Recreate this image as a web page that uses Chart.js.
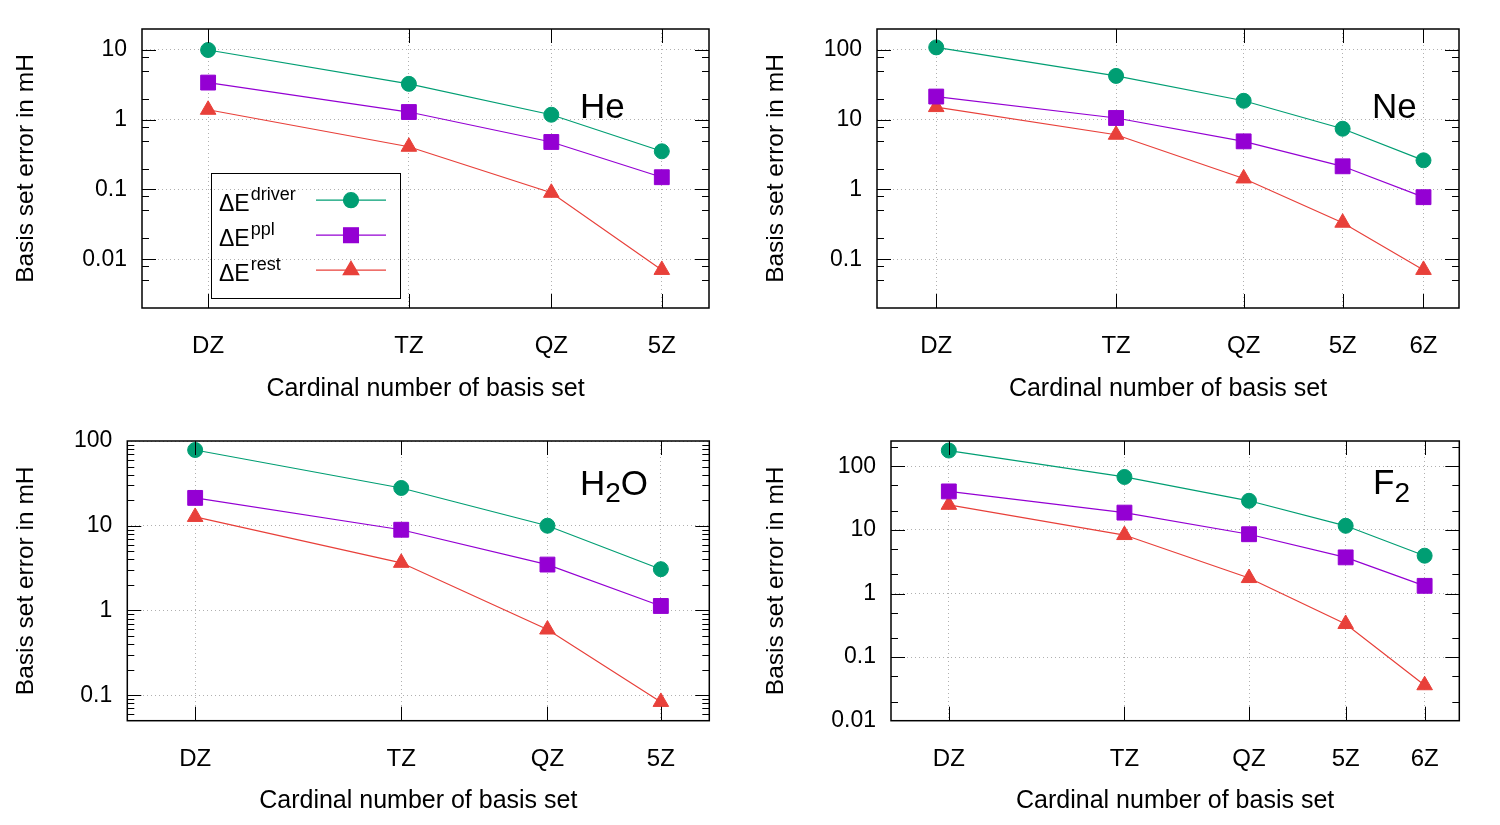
<!DOCTYPE html>
<html>
<head>
<meta charset="utf-8">
<script src="https://cdn.jsdelivr.net/npm/chart.js@4.4.1/dist/chart.umd.min.js"></script>
<style>
  body { margin: 0; background: #fff; }
  #wrap { position: relative; width: 1500px; height: 825px; }
  canvas { position: absolute; }
</style>
</head>
<body>
<div id="wrap">
  <canvas id="he" width="740" height="412" style="left:0;top:0"></canvas>
  <canvas id="ne" width="760" height="412" style="left:740px;top:0"></canvas>
  <canvas id="h2o" width="740" height="413" style="left:0;top:412px"></canvas>
  <canvas id="f2" width="760" height="413" style="left:740px;top:412px"></canvas>
</div>
<script>
// cardinal numbers of the basis sets and their labels
const cardinals = [2, 3, 4, 5, 6];
const cardLabels = ['DZ', 'TZ', 'QZ', '5Z', '6Z'];

// basis set errors in mH
const heDriver = [10, 3.27, 1.18, 0.353];
const hePpl = [3.41, 1.29, 0.48, 0.15];
const heRest = [1.39, 0.41, 0.0897, 0.00703];

const neDriver = [109, 42.5, 18.7, 7.43, 2.62];
const nePpl = [21.5, 10.6, 4.9, 2.15, 0.776];
const neRest = [15.2, 6.1, 1.44, 0.334, 0.0703];

const h2oDriver = [78.3, 27.9, 10.0, 3.07];
const h2oPpl = [21.3, 8.97, 3.48, 1.13];
const h2oRest = [12.7, 3.65, 0.596, 0.0833];

const f2Driver = [177, 68, 28.7, 11.6, 3.93];
const f2Ppl = [40.3, 18.7, 8.55, 3.7, 1.32];
const f2Rest = [24.8, 8.3, 1.75, 0.332, 0.0361];

// tick labels
const heYTicks = [0.01, 0.1, 1, 10];
const neYTicks = [0.1, 1, 10, 100];
const h2oYTicks = [0.1, 1, 10, 100];
const f2YTicks = [0.01, 0.1, 1, 10, 100];

const FONT = '"Liberation Sans", Arial, Helvetica, sans-serif';
const GREEN = '#009e73', PURPLE = '#9400d3', RED = '#e8403a';

const pts = ys => ys.map((y, i) => ({ x: cardinals[i], y }));

// frame, inward ticks, panel label and legend (gnuplot look)
const framePlugin = {
  id: 'frame',
  afterDraw(chart, args, o) {
    const { ctx, chartArea: a, scales: { x, y } } = chart;
    ctx.save();
    ctx.strokeStyle = '#000';
    ctx.lineWidth = 1;
    const d0 = Math.floor(Math.log10(y.min)), d1 = Math.ceil(Math.log10(y.max));
    for (let d = d0; d <= d1; d++) {
      const base = Math.pow(10, d);
      [[1, 14]].concat(o.minor.map(m => [m, 7])).forEach(([m, len]) => {
        const v = m * base;
        if (v <= y.min * 1.0001 || v >= y.max * 0.9999) return;
        const py = Math.round(y.getPixelForValue(v)) + 0.5;
        ctx.beginPath();
        ctx.moveTo(a.left, py); ctx.lineTo(a.left + len, py);
        ctx.moveTo(a.right, py); ctx.lineTo(a.right - len, py);
        ctx.stroke();
      });
    }
    x.ticks.forEach(t => {
      const px = Math.round(x.getPixelForValue(t.value)) + 0.5;
      ctx.beginPath();
      ctx.moveTo(px, a.top); ctx.lineTo(px, a.top + 14);
      ctx.moveTo(px, a.bottom); ctx.lineTo(px, a.bottom - 14);
      ctx.stroke();
    });
    ctx.lineWidth = 1.5;
    ctx.strokeRect(a.left, a.top, a.right - a.left, a.bottom - a.top);

    // panel label
    ctx.fillStyle = '#000';
    ctx.textBaseline = 'alphabetic';
    ctx.textAlign = 'left';
    let lx = o.labelX;
    o.label.forEach(p => {
      ctx.font = p.size + 'px ' + FONT;
      ctx.fillText(p.text, lx, o.labelY + (p.dy || 0));
      lx += ctx.measureText(p.text).width;
    });

    if (o.legend) {
      ctx.lineWidth = 1;
      ctx.strokeRect(211.5, 173.5, 189, 125);
      chart.data.datasets.forEach((ds, i) => {
        const base = 210.7 + i * 35;
        ctx.fillStyle = '#000';
        ctx.font = '23px ' + FONT;
        ctx.fillText('\u0394E', 219, base);
        const w = ctx.measureText('\u0394E').width;
        ctx.font = '18px ' + FONT;
        ctx.fillText(ds.label, 219 + w + 1, base - 10.5);
        const ly = base - 10.5;
        ctx.strokeStyle = ds.borderColor;
        ctx.lineWidth = ds.borderWidth;
        ctx.beginPath(); ctx.moveTo(316, ly); ctx.lineTo(386, ly); ctx.stroke();
        ctx.fillStyle = ds.backgroundColor;
        Chart.helpers.drawPoint(ctx, { pointStyle: ds.pointStyle, radius: ds.pointRadius, rotation: 0, borderWidth: 1 }, 351, ly);
      });
    }
    ctx.restore();
  }
};

function series(label, data, color, style, r) {
  return {
    label, data: pts(data), borderColor: color, backgroundColor: color,
    pointBackgroundColor: color, pointBorderColor: color, borderWidth: 1.2,
    pointStyle: style, pointRadius: r, pointHoverRadius: r, pointBorderWidth: 1, tension: 0
  };
}

function makePanel(id, g, datasets, yTicks, frame) {
  const cv = document.getElementById(id);
  const W = cv.width, H = cv.height;
  const xTicks = cardinals.filter(c => c <= g.xmax);
  new Chart(cv.getContext('2d'), {
    type: 'line',
    data: { datasets },
    plugins: [framePlugin],
    options: {
      responsive: false,
      animation: false,
      events: [],
      layout: { padding: { left: 0, top: g.top, right: W - g.right, bottom: 0 } },
      plugins: { legend: { display: false }, tooltip: { enabled: false }, frame },
      scales: {
        x: {
          type: 'logarithmic', min: 1.75, max: g.xmax, bounds: 'data',
          afterBuildTicks: s => { s.ticks = xTicks.map(v => ({ value: v })); },
          afterFit: s => { s.height = H - g.bottom; },
          ticks: {
            autoSkip: false, maxRotation: 0, padding: 24, color: '#000',
            font: { family: FONT, size: 24 },
            callback: v => cardLabels[cardinals.indexOf(v)]
          },
          grid: { color: '#b0b0b0', lineWidth: 1, drawTicks: false },
          border: { display: false, dash: [1, 3] },
          title: {
            display: true, text: 'Cardinal number of basis set', color: '#000',
            font: { family: FONT, size: 25 }, padding: { top: 0, bottom: H - g.xTitleY - 15 }
          }
        },
        y: {
          type: 'logarithmic', min: g.ymin, max: g.ymax, bounds: 'data',
          afterBuildTicks: s => { s.ticks = yTicks.map(v => ({ value: v })); },
          afterFit: s => { s.width = g.left; },
          ticks: {
            autoSkip: false, padding: 15, color: '#000',
            font: { family: FONT, size: 23 },
            callback: v => String(v)
          },
          grid: { color: '#b0b0b0', lineWidth: 1, drawTicks: false },
          border: { display: false, dash: [1, 3] },
          title: {
            display: true, text: 'Basis set error in mH', color: '#000',
            font: { family: FONT, size: 24.5 }, padding: { top: g.yTitleX - 14.7, bottom: 0 }
          }
        }
      }
    }
  });
}

function trio(d, p, r) {
  return [
    series('driver', d, GREEN, 'circle', 7.5),
    series('ppl', p, PURPLE, 'rect', 10.5),
    series('rest', r, RED, 'triangle', 9)
  ];
}

makePanel('he',
  { left: 142, right: 709, top: 29, bottom: 308, xmax: 5.5, ymin: 0.002, ymax: 20, xTitleY: 389, yTitleX: 26 },
  trio(heDriver, hePpl, heRest), heYTicks,
  { minor: [2, 5, 8], label: [{ text: 'He', size: 35 }], labelX: 580, labelY: 118, legend: true });

makePanel('ne',
  { left: 137, right: 719, top: 29, bottom: 308, xmax: 6.5, ymin: 0.02, ymax: 200, xTitleY: 389, yTitleX: 36 },
  trio(neDriver, nePpl, neRest), neYTicks,
  { minor: [2, 5, 8], label: [{ text: 'Ne', size: 35 }], labelX: 632, labelY: 118 });

makePanel('h2o',
  { left: 127.3, right: 709.3, top: 29, bottom: 308.7, xmax: 5.5, ymin: 0.05, ymax: 100, xTitleY: 389, yTitleX: 26 },
  trio(h2oDriver, h2oPpl, h2oRest), h2oYTicks,
  { minor: [2, 3, 4, 5, 6, 7, 8, 9], label: [{ text: 'H', size: 35 }, { text: '2', size: 28, dy: 7 }, { text: 'O', size: 35 }], labelX: 580, labelY: 83 });

makePanel('f2',
  { left: 151, right: 719.3, top: 29, bottom: 308.7, xmax: 6.5, ymin: 0.01, ymax: 250, xTitleY: 389, yTitleX: 36 },
  trio(f2Driver, f2Ppl, f2Rest), f2YTicks,
  { minor: [2, 5], label: [{ text: 'F', size: 35 }, { text: '2', size: 28, dy: 8 }], labelX: 633, labelY: 82 });
</script>
</body>
</html>
